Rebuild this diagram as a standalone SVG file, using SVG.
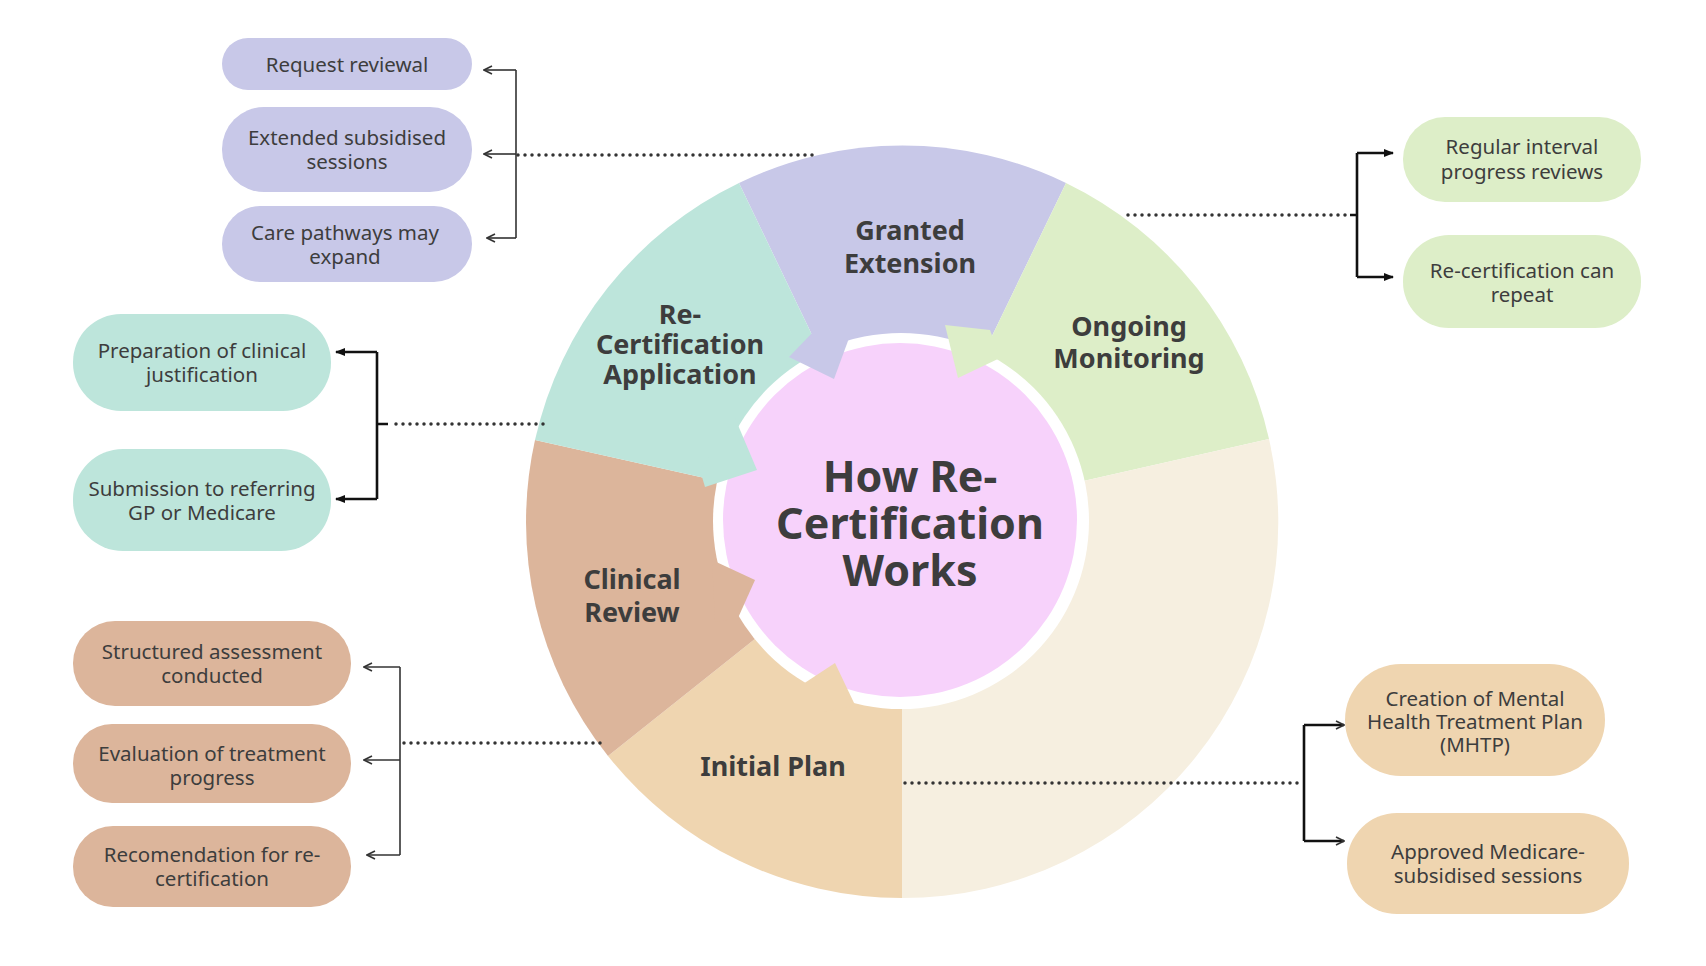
<svg xmlns="http://www.w3.org/2000/svg" width="1706" height="966" viewBox="0 0 1706 966">
<defs>
<style>
.box text{font-family:"Noto Sans","Liberation Sans",sans-serif;font-size:20.5px;fill:#3d3d3d;text-anchor:middle;dominant-baseline:central}
.seg text{font-family:"Noto Sans","Liberation Sans",sans-serif;font-size:27px;font-weight:bold;fill:#3d3d3d;text-anchor:middle;dominant-baseline:central}
.seg text.big{font-size:43px}
.dot{fill:none;stroke:#333;stroke-width:3.5;stroke-linecap:round;stroke-dasharray:0 7}
.thin{fill:none;stroke:#333;stroke-width:1.6}
.thick{fill:none;stroke:#111;stroke-width:2.6}
</style>
<marker id="open" viewBox="0 0 10 10" refX="9" refY="5" markerWidth="10" markerHeight="10" markerUnits="userSpaceOnUse" orient="auto"><path d="M1,1 L9,5 L1,9" fill="none" stroke="#333" stroke-width="1.6"/></marker>
<marker id="fill" viewBox="0 0 10 10" refX="9" refY="5" markerWidth="10" markerHeight="10" markerUnits="userSpaceOnUse" orient="auto"><path d="M0,1 L10,5 L0,9 Z" fill="#111"/></marker>
</defs>
<rect width="1706" height="966" fill="#fff"/>
<g id="ring">
<path d="M902,522 L739,183 A376,376 0 0 1 1066,183 Z" fill="#c8c8e8"/>
<path d="M902,522 L1066,183 A376,376 0 0 1 1269,439 Z" fill="#ddeec8"/>
<path d="M902,522 L1269,439 A376,376 0 0 1 902,898 Z" fill="#f6efe0"/>
<path d="M902,522 L902,898 A376,376 0 0 1 608,756 Z" fill="#efd5b0"/>
<path d="M902,522 L608,756 A376,376 0 0 1 535,440 Z" fill="#dcb59b"/>
<path d="M902,522 L535,440 A376,376 0 0 1 739,183 Z" fill="#bde5db"/>
<circle cx="901" cy="521" r="188" fill="#fff"/>
<circle cx="900" cy="520" r="177" fill="#f7d2fb"/>
<polygon points="815,330 789,357 834,379 852,330" fill="#c8c8e8"/>
<polygon points="945,325 958,378 1000,358 990,330" fill="#ddeec8"/>
<polygon points="735,418 757,470 705,487 700,470" fill="#bde5db"/>
<polygon points="712,560 755,580 738,618 715,622" fill="#dcb59b"/>
<polygon points="800,686 835,663 855,705 825,712" fill="#efd5b0"/>
</g>
<g id="center" class="seg"><text class="big" x="910" y="475">How Re-</text><text class="big" x="910" y="522">Certification</text><text class="big" x="910" y="569">Works</text></g>
<g id="granted" class="seg"><text x="910" y="229">Granted</text><text x="910" y="262">Extension</text></g>
<g id="application" class="seg"><text x="680" y="313">Re-</text><text x="680" y="343">Certification</text><text x="680" y="373">Application</text></g>
<g id="monitoring" class="seg"><text x="1129" y="325">Ongoing</text><text x="1129" y="357">Monitoring</text></g>
<g id="clinical" class="seg"><text x="632" y="578">Clinical</text><text x="632" y="611">Review</text></g>
<g id="initial" class="seg"><text x="773" y="765">Initial Plan</text></g>
<g id="b1" class="box"><rect x="222" y="38" width="250" height="52" rx="26" fill="#c8c8e8"/><text x="347" y="64">Request reviewal</text></g>
<g id="b2" class="box"><rect x="222" y="107" width="250" height="85" rx="42" fill="#c8c8e8"/><text x="347" y="137">Extended subsidised</text><text x="347" y="161">sessions</text></g>
<g id="b3" class="box"><rect x="222" y="206" width="250" height="76" rx="38" fill="#c8c8e8"/><text x="345" y="232">Care pathways may</text><text x="345" y="256">expand</text></g>
<g id="g1" class="box"><rect x="1403" y="117" width="238" height="85" rx="42" fill="#ddeec8"/><text x="1522" y="146">Regular interval</text><text x="1522" y="171">progress reviews</text></g>
<g id="g2" class="box"><rect x="1403" y="235" width="238" height="93" rx="46" fill="#ddeec8"/><text x="1522" y="270">Re-certification can</text><text x="1522" y="294">repeat</text></g>
<g id="t1" class="box"><rect x="73" y="314" width="258" height="97" rx="48" fill="#bde5db"/><text x="202" y="350">Preparation of clinical</text><text x="202" y="374">justification</text></g>
<g id="t2" class="box"><rect x="73" y="449" width="258" height="102" rx="50" fill="#bde5db"/><text x="202" y="488">Submission to referring</text><text x="202" y="512">GP or Medicare</text></g>
<g id="r1" class="box"><rect x="73" y="621" width="278" height="85" rx="42" fill="#dcb59b"/><text x="212" y="651">Structured assessment</text><text x="212" y="675">conducted</text></g>
<g id="r2" class="box"><rect x="73" y="724" width="278" height="79" rx="39" fill="#dcb59b"/><text x="212" y="753">Evaluation of treatment</text><text x="212" y="777">progress</text></g>
<g id="r3" class="box"><rect x="73" y="826" width="278" height="81" rx="40" fill="#dcb59b"/><text x="212" y="854">Recomendation for re-</text><text x="212" y="878">certification</text></g>
<g id="p1" class="box"><rect x="1345" y="664" width="260" height="112" rx="56" fill="#efd5b0"/><text x="1475" y="698">Creation of Mental</text><text x="1475" y="721">Health Treatment Plan</text><text x="1475" y="744">(MHTP)</text></g>
<g id="p2" class="box"><rect x="1347" y="813" width="282" height="101" rx="50" fill="#efd5b0"/><text x="1488" y="851">Approved Medicare-</text><text x="1488" y="875">subsidised sessions</text></g>
<g id="connectors">
<path class="dot" d="M518,155 H815"/>
<path class="thin" d="M516,70 V238"/>
<path class="thin" d="M516,70 H484" marker-end="url(#open)"/>
<path class="thin" d="M516,154 H484" marker-end="url(#open)"/>
<path class="thin" d="M516,238 H487" marker-end="url(#open)"/>
<path class="dot" d="M1128,215 H1350"/>
<path class="thick" d="M1357,153 V277 M1350,215 H1357"/>
<path class="thick" d="M1357,153 H1393" marker-end="url(#fill)"/>
<path class="thick" d="M1357,277 H1393" marker-end="url(#fill)"/>
<path class="dot" d="M396,424 H544"/>
<path class="thick" d="M377,352 V499 M377,424 H388"/>
<path class="thick" d="M377,352 H336" marker-end="url(#fill)"/>
<path class="thick" d="M377,499 H336" marker-end="url(#fill)"/>
<path class="dot" d="M404,743 H604"/>
<path class="thin" d="M400,667 V855"/>
<path class="thin" d="M400,667 H364" marker-end="url(#open)"/>
<path class="thin" d="M400,760 H364" marker-end="url(#open)"/>
<path class="thin" d="M400,855 H367" marker-end="url(#open)"/>
<path class="dot" d="M905,783 H1298"/>
<path class="thick" d="M1304,725 V841"/>
<path class="thick" d="M1304,725 H1344" marker-end="url(#open)"/>
<path class="thick" d="M1304,841 H1344" marker-end="url(#open)"/>
</g>
</svg>
